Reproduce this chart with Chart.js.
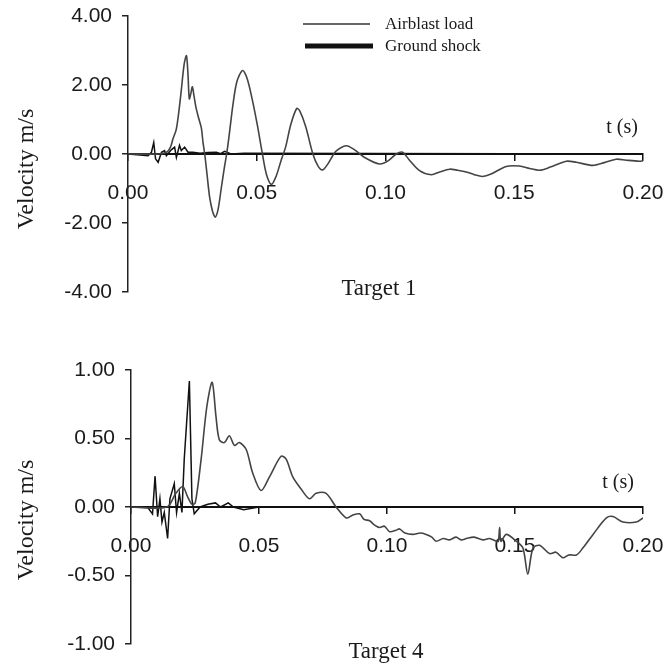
<!DOCTYPE html>
<html>
<head>
<meta charset="utf-8">
<script src="https://cdn.jsdelivr.net/npm/chart.js@4.4.1/dist/chart.umd.min.js"></script>
<style>
  html, body { margin: 0; padding: 0; background: #fff; }
  #wrap { position: relative; width: 667px; height: 665px; }
  canvas { position: absolute; left: 0; }
</style>
</head>
<body>
<div id="wrap">
  <canvas id="c1" width="667" height="332" style="top:0px"></canvas>
  <canvas id="c4" width="667" height="333" style="top:332px"></canvas>
</div>
<script>
// ---- Target 1 ----
var t1Air = [0, 0.012, 0.015, 0.0165, 0.0175, 0.0187, 0.0197, 0.0207, 0.0218, 0.0227, 0.0233, 0.0238, 0.0244, 0.025, 0.0256,
  0.0264, 0.0274, 0.0285, 0.0291, 0.0298, 0.0307, 0.0317, 0.0328, 0.0339, 0.035, 0.0362, 0.0373, 0.0383, 0.0393,
  0.0408, 0.0423, 0.0445, 0.0462, 0.0482, 0.0502, 0.0522, 0.0538, 0.0557, 0.0575, 0.0594, 0.0612, 0.0632, 0.0655,
  0.0667, 0.069, 0.0718, 0.0738, 0.0756, 0.0775, 0.0795, 0.081, 0.0848, 0.088, 0.0919, 0.0977, 0.101, 0.1042,
  0.1066, 0.109, 0.1132, 0.1178, 0.121, 0.1249, 0.128, 0.1314, 0.1345, 0.1377, 0.141, 0.1469, 0.152, 0.156,
  0.1598, 0.164, 0.1702, 0.1741, 0.1805, 0.185, 0.1896, 0.1935, 0.1986, 0.2];
var v1Air = [0, 0, 0.05, 0.2, 0.45, 0.7, 1.2, 1.85, 2.6, 2.85, 2.3, 1.6, 1.75, 1.95, 1.7,
  1.35, 1.05, 0.75, 0.35, 0, -0.6, -1.25, -1.65, -1.83, -1.6, -1.0, -0.45, 0, 0.55,
  1.45, 2.1, 2.42, 2.2, 1.6, 0.85, 0, -0.6, -0.88, -0.65, -0.2, 0.2, 0.85, 1.32,
  1.25, 0.8, 0, -0.35, -0.46, -0.3, -0.05, 0.1, 0.24, 0.12, -0.1, -0.29, -0.2, 0,
  0.05, -0.15, -0.48, -0.6, -0.52, -0.44, -0.47, -0.52, -0.6, -0.65, -0.58, -0.36, -0.35, -0.42,
  -0.47, -0.38, -0.21, -0.24, -0.33, -0.25, -0.15, -0.18, -0.21, -0.2];
var t1Ground = [0, 0.0078, 0.0091, 0.01, 0.0107, 0.0117, 0.013, 0.0142, 0.0149, 0.0168, 0.0181, 0.0188, 0.02,
  0.0207, 0.022, 0.0233, 0.0252, 0.028, 0.031, 0.0343, 0.036, 0.0375, 0.04, 0.045, 0.2];
var v1Ground = [0, -0.05, 0.05, 0.33, -0.14, -0.24, 0.05, 0.1, -0.05, 0.12, 0.2, -0.1, 0.25,
  0.1, 0.2, 0.05, 0.05, 0.02, 0.04, 0.05, 0.01, 0.08, 0, 0.02, 0];

// ---- Target 4 ----
var t4Air = [0, 0.014, 0.0175, 0.0202, 0.022, 0.0238, 0.0251, 0.0274, 0.0296, 0.0317, 0.0332, 0.0345, 0.0365, 0.0384,
  0.0404, 0.0423, 0.045, 0.0475, 0.0508, 0.0541, 0.0586, 0.0606, 0.0632, 0.0665, 0.0697, 0.0723, 0.0762,
  0.0801, 0.0841, 0.0865, 0.0893, 0.091, 0.0932, 0.095, 0.0971, 0.099, 0.101, 0.1035, 0.1049, 0.107, 0.1101,
  0.113, 0.1153, 0.1175, 0.1192, 0.122, 0.1244, 0.127, 0.129, 0.131, 0.134, 0.1375, 0.14,
  0.1427, 0.1435, 0.144, 0.1445, 0.1466, 0.1505, 0.1531, 0.155, 0.157, 0.1596, 0.1635, 0.166, 0.1687, 0.171, 0.174,
  0.1765, 0.1805, 0.1857, 0.1883, 0.1922, 0.1974, 0.2];
var v4Air = [0, 0, 0.1, 0.15, 0.08, 0.02, 0.03, 0.35, 0.73, 0.91, 0.66, 0.49, 0.47, 0.52,
  0.45, 0.47, 0.42, 0.25, 0.12, 0.22, 0.37, 0.35, 0.22, 0.13, 0.06, 0.1, 0.1,
  0, -0.08, -0.06, -0.05, -0.09, -0.1, -0.13, -0.15, -0.14, -0.18, -0.17, -0.16, -0.19, -0.2,
  -0.19, -0.2, -0.22, -0.25, -0.23, -0.24, -0.22, -0.24, -0.23, -0.22, -0.24, -0.23,
  -0.25, -0.25, -0.15, -0.25, -0.2, -0.25, -0.3, -0.49, -0.3, -0.28, -0.34, -0.33, -0.37, -0.35, -0.35,
  -0.3, -0.2, -0.08, -0.07, -0.11, -0.11, -0.08];
var t4Ground = [0, 0.0064, 0.0084, 0.0094, 0.0104, 0.0113, 0.0121, 0.013, 0.0143, 0.0152, 0.0169, 0.0178, 0.0189,
  0.0199, 0.0208, 0.0228, 0.0238, 0.0247, 0.027, 0.03, 0.033, 0.035, 0.038, 0.04, 0.044, 0.05, 0.2];
var v4Ground = [0, 0, -0.05, 0.225, -0.07, 0.06, -0.11, -0.04, -0.23, 0.06, 0.17, -0.04, 0.1,
  -0.04, 0.35, 0.92, 0.06, -0.05, 0, 0.02, 0.03, 0, 0.03, 0, -0.02, 0, 0];

var xTicks = [0, 0.05, 0.1, 0.15, 0.2];

function pts(t, v) {
  return t.map(function (x, i) { return { x: x, y: v[i] }; });
}

// text overlay: axis title, caption, legend
var textLayer = {
  id: 'textLayer',
  afterDraw: function (chart, args, opts) {
    var ctx = chart.ctx;
    ctx.save();
    ctx.fillStyle = '#1a1a1a';
    (opts.items || []).forEach(function (it) {
      ctx.save();
      ctx.font = it.font;
      ctx.textAlign = it.align || 'center';
      ctx.textBaseline = it.baseline || 'alphabetic';
      ctx.translate(it.x, it.y);
      if (it.rotate) ctx.rotate(it.rotate);
      ctx.fillText(it.text, 0, 0);
      ctx.restore();
    });
    (opts.lines || []).forEach(function (ln) {
      ctx.beginPath();
      ctx.strokeStyle = ln.color;
      ctx.lineWidth = ln.width;
      ctx.moveTo(ln.x1, ln.y);
      ctx.lineTo(ln.x2, ln.y);
      ctx.stroke();
    });
    ctx.restore();
  }
};

function makeChart(id, air, ground, yMin, yMax, yStep, axisW, pad, overlay) {
  return new Chart(document.getElementById(id), {
    type: 'line',
    data: {
      datasets: [
        { label: 'Airblast load', data: air, borderColor: '#444', borderWidth: 1.6, pointRadius: 0, tension: 0.3, fill: false },
        { label: 'Ground shock', data: ground, borderColor: '#111', borderWidth: 1.5, pointRadius: 0, tension: 0, fill: false }
      ]
    },
    options: {
      responsive: false,
      animation: false,
      layout: { padding: pad },
      plugins: { legend: { display: false }, tooltip: { enabled: false }, textLayer: overlay },
      scales: {
        x: {
          type: 'linear', min: 0, max: 0.2,
          position: { y: 0 },
          afterFit: function (s) { s.height = 0; s.paddingLeft = 0; s.paddingRight = 0; },
          afterBuildTicks: function (s) { s.ticks = xTicks.map(function (v) { return { value: v }; }); },
          grid: { drawOnChartArea: false, drawTicks: true, tickLength: 6, color: '#111', lineWidth: 1.5 },
          border: { display: true, color: '#111', width: 2 },
          ticks: {
            padding: 21, color: '#1a1a1a', maxRotation: 0,
            font: { family: 'Liberation Sans', size: 21 },
            callback: function (v) { return v.toFixed(2); }
          }
        },
        y: {
          min: yMin, max: yMax,
          afterFit: function (s) { s.width = axisW; s.paddingTop = 0; s.paddingBottom = 0; },
          grid: { drawOnChartArea: false, drawTicks: true, tickLength: 6, color: '#222', lineWidth: 1.5 },
          border: { display: true, color: '#222', width: 1.5 },
          ticks: {
            stepSize: yStep, padding: 10, color: '#1a1a1a',
            font: { family: 'Liberation Sans', size: 21 },
            callback: function (v) { return v.toFixed(2); }
          }
        }
      }
    },
    plugins: [textLayer]
  });
}

var serif = 'Liberation Serif';

makeChart('c1', pts(t1Air, v1Air), pts(t1Ground, v1Ground), -4, 4, 2, 128,
  { left: 0, top: 16, right: 24, bottom: 40 },
  {
    items: [
      { text: 'Velocity m/s', x: 27, y: 169, font: '24px ' + serif, rotate: -Math.PI / 2, baseline: 'middle' },
      { text: 'Target 1', x: 379, y: 295, font: '23px ' + serif },
      { text: 't (s)', x: 622, y: 133, font: '20px ' + serif },
      { text: 'Airblast load', x: 385, y: 29, font: '17px ' + serif, align: 'left' },
      { text: 'Ground shock', x: 385, y: 51, font: '17px ' + serif, align: 'left' }
    ],
    lines: [
      { x1: 303, x2: 370, y: 24, width: 1.5, color: '#333' },
      { x1: 305, x2: 373, y: 46, width: 5, color: '#111' }
    ]
  });

makeChart('c4', pts(t4Air, v4Air), pts(t4Ground, v4Ground), -1, 1, 0.5, 131,
  { left: 0, top: 38, right: 24, bottom: 21 },
  {
    items: [
      { text: 'Velocity m/s', x: 27, y: 188, font: '24px ' + serif, rotate: -Math.PI / 2, baseline: 'middle' },
      { text: 'Target 4', x: 386, y: 326, font: '23px ' + serif },
      { text: 't (s)', x: 618, y: 156, font: '20px ' + serif }
    ]
  });
</script>
</body>
</html>
